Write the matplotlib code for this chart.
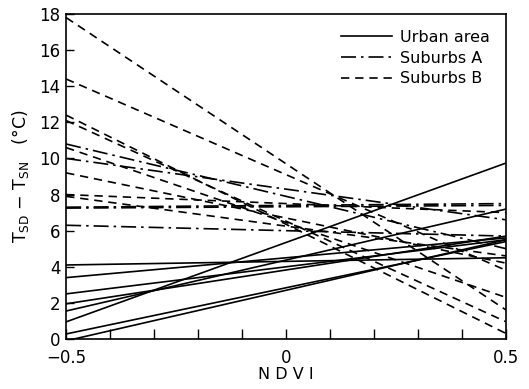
import numpy as np
import matplotlib
matplotlib.use("Agg")
import matplotlib.pyplot as plt

# NDVI end points of each regression line
ndvi_ends = [-0.5, 0.5]

# T_SD - T_SN at NDVI = -0.5 and NDVI = 0.5 for each line
urban_left = [4.1, 3.4, 2.5, 1.95, 1.55, 0.95, 0.28, -0.1]
urban_right = [4.5, 5.6, 5.5, 5.7, 7.2, 9.75, 5.4, 5.5]

suburbs_a_left = [10.0, 10.8, 7.3, 7.25, 6.3]
suburbs_a_right = [6.6, 5.0, 7.5, 7.4, 5.7]

suburbs_b_left = [17.8, 14.4, 12.4, 12.1, 10.6, 9.2, 8.0, 7.9]
suburbs_b_right = [1.6, 3.8, 0.3, 0.95, 2.3, 4.2, 7.0, 4.6]

x_ticks = [-0.5, 0, 0.5]
x_tick_labels = ["\u22120.5", "0", "0.5"]
y_ticks = [0, 2, 4, 6, 8, 10, 12, 14, 16, 18]

plt.rcParams['font.family'] = ['DejaVu Sans']

fig = plt.figure(figsize=(5.29, 3.89), dpi=100)
ax = fig.add_axes([0.125, 0.1285, 0.832, 0.8355])

for left, right in zip(urban_left, urban_right):
    ax.plot(ndvi_ends, [left, right], color='black', lw=1.2, ls='-')
for left, right in zip(suburbs_a_left, suburbs_a_right):
    ax.plot(ndvi_ends, [left, right], color='black', lw=1.2, ls=(0, (9, 3, 1.5, 3)))
for left, right in zip(suburbs_b_left, suburbs_b_right):
    ax.plot(ndvi_ends, [left, right], color='black', lw=1.2, ls=(0, (5, 3.5)))

# legend handles
ax.plot([], [], color='black', lw=1.2, ls='-', label='Urban area')
ax.plot([], [], color='black', lw=1.2, ls=(0, (9, 3, 1.5, 3)), label='Suburbs A')
ax.plot([], [], color='black', lw=1.2, ls=(0, (5, 3.5)), label='Suburbs B')
handles, labels = ax.get_legend_handles_labels()
ax.legend(handles[-3:], labels[-3:], loc='upper right', frameon=False,
          fontsize=11.5, handlelength=3.2, handletextpad=0.5,
          labelspacing=0.35, borderaxespad=0.6)

ax.set_xlim(-0.5, 0.5)
ax.set_ylim(0, 18)
ax.set_xticks(x_ticks)
ax.set_xticklabels(x_tick_labels)
ax.set_xticks(np.arange(-0.4, 0.45, 0.1), minor=True)
ax.set_yticks(y_ticks)
ax.tick_params(axis='both', which='both', direction='in', labelsize=12,
               width=1.0, top=False, right=False)
ax.tick_params(axis='x', which='minor', length=7)
ax.tick_params(axis='x', which='major', length=7, pad=7.5)
ax.tick_params(axis='y', which='major', length=6, pad=4)
for spine in ax.spines.values():
    spine.set_linewidth(1.2)

ax.set_xlabel("N D V I", fontsize=11.5, labelpad=0)
ax.set_ylabel(r"T$_{\mathrm{SD}}$ $-$ T$_{\mathrm{SN}}$   (°C)", fontsize=12.5, labelpad=6)

fig.savefig("out.png", dpi=100)
